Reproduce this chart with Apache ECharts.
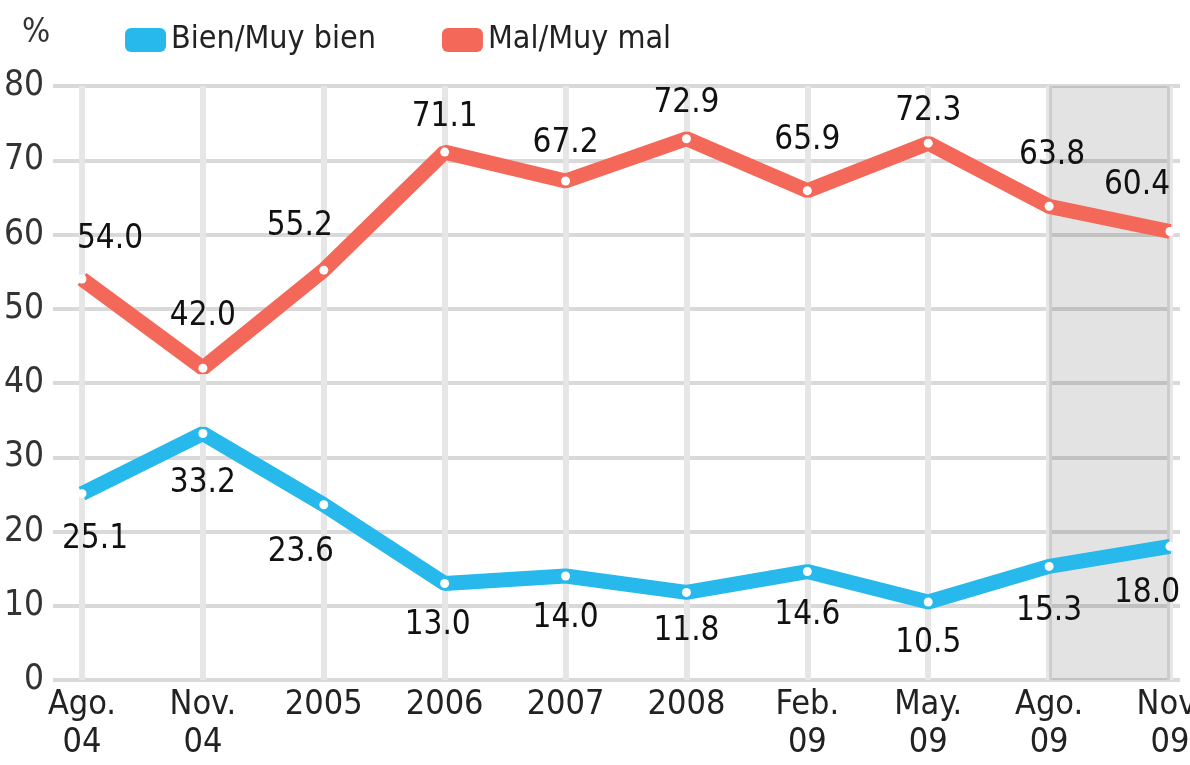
<!DOCTYPE html>
<html>
<head>
<meta charset="utf-8">
<script src="https://cdn.jsdelivr.net/npm/echarts@6/dist/echarts.min.js"></script>
<style>
    html, body { margin: 0; padding: 0; background: #fff; }
    #chart { width: 1190px; height: 765px; }
</style>
</head>
<body>
<div id="chart"></div>
<script>
// datos
const categories = ['Ago.\n04', 'Nov.\n04', '2005', '2006', '2007', '2008', 'Feb.\n09', 'May.\n09', 'Ago.\n09', 'Nov.\n09'];
const bienValues = [25.1, 33.2, 23.6, 13.0, 14.0, 11.8, 14.6, 10.5, 15.3, 18.0];
const malValues = [54.0, 42.0, 55.2, 71.1, 67.2, 72.9, 65.9, 72.3, 63.8, 60.4];
const seriesNames = ['Bien/Muy bien', 'Mal/Muy mal'];
const shadedFrom = 'Ago.\n09';
const shadedTo = 'Nov.\n09';

// ajustes de etiquetas (desplazamiento en px)
const bienLabelShift = [[13, 5], [0, 9], [-23, 7], [-7, 1], [0, 1], [0, -2], [0, 3], [0, 0], [0, 4], [-23, 6]];
const malLabelShift = [[28, -5], [0, -17], [-24, -9], [0, 0], [0, -3], [0, 0], [0, -15], [0, 3], [3, -16], [-33, -11]];

const FONT = '"Liberation Sans Narrow", "DejaVu Sans Condensed", "Roboto", sans-serif';
const BLUE = '#27b8ec';
const RED = '#f4685a';

const chart = echarts.init(document.getElementById('chart'), null, { renderer: 'canvas' });

function withLabels(values, shifts) {
    return values.map((v, i) => ({
        value: v,
        label: { offset: shifts[i] },
    }));
}

const labelBase = {
    show: true,
    color: '#111',
    fontFamily: FONT,
    fontSize: 33,
    formatter: (p) => p.value.toFixed(1),
};

chart.setOption({
    animation: false,
    title: {
        text: '%',
        left: 17,
        top: 12,
        textStyle: { fontFamily: FONT, fontSize: 33, fontWeight: 'normal', color: '#333' },
    },
    legend: {
        left: 120,
        top: 19,
        itemWidth: 41,
        itemHeight: 24,
        itemGap: 66,
        icon: 'roundRect',
        textStyle: { fontFamily: FONT, fontSize: 32, color: '#222' },
        data: [
            { name: seriesNames[0], itemStyle: { color: BLUE } },
            { name: seriesNames[1], itemStyle: { color: RED } },
        ],
    },
    grid: [
        { left: 53, right: 10, top: 86, bottom: 85, outerBoundsMode: 'none' },
        { left: 82, right: 20, top: 86, bottom: 85, outerBoundsMode: 'none' },
    ],
    xAxis: [
        { type: 'value', gridIndex: 0, min: 0, max: 1, show: false },
        {
            type: 'category',
            gridIndex: 1,
            data: categories,
            boundaryGap: false,
            axisLine: { show: false },
            axisTick: { show: false },
            splitLine: { show: true, lineStyle: { color: '#e6e6e6', width: 6 } },
            axisLabel: {
                fontFamily: FONT,
                fontSize: 34,
                lineHeight: 38,
                margin: 6,
                color: '#222',
                interval: 0,
            },
        },
    ],
    yAxis: [
        {
            type: 'value',
            gridIndex: 0,
            min: 0,
            max: 80,
            interval: 10,
            axisLine: { show: false },
            axisTick: { show: false },
            splitLine: { lineStyle: { color: '#d9d9d9', width: 4 } },
            axisLabel: { fontFamily: FONT, fontSize: 35, color: '#333', margin: 9 },
        },
        { type: 'value', gridIndex: 1, min: 0, max: 80, interval: 10, show: false },
    ],
    series: [
        {
            name: seriesNames[0],
            type: 'line',
            xAxisIndex: 1,
            yAxisIndex: 1,
            data: withLabels(bienValues, bienLabelShift),
            symbol: 'circle',
            symbolSize: 9,
            itemStyle: { color: '#fff' },
            lineStyle: { color: BLUE, width: 15 },
            label: Object.assign({}, labelBase, { position: 'bottom', distance: 20 }),
            emphasis: { disabled: true },
            markArea: {
                silent: true,
                itemStyle: { color: 'rgba(0,0,0,0.11)' },
                data: [[{ xAxis: shadedFrom }, { xAxis: shadedTo }]],
            },
            z: 3,
        },
        {
            name: seriesNames[1],
            type: 'line',
            xAxisIndex: 1,
            yAxisIndex: 1,
            data: withLabels(malValues, malLabelShift),
            symbol: 'circle',
            symbolSize: 9,
            itemStyle: { color: '#fff' },
            lineStyle: { color: RED, width: 15 },
            label: Object.assign({}, labelBase, { position: 'top', distance: 14 }),
            emphasis: { disabled: true },
            z: 3,
        },
    ],
});
</script>
</body>
</html>
